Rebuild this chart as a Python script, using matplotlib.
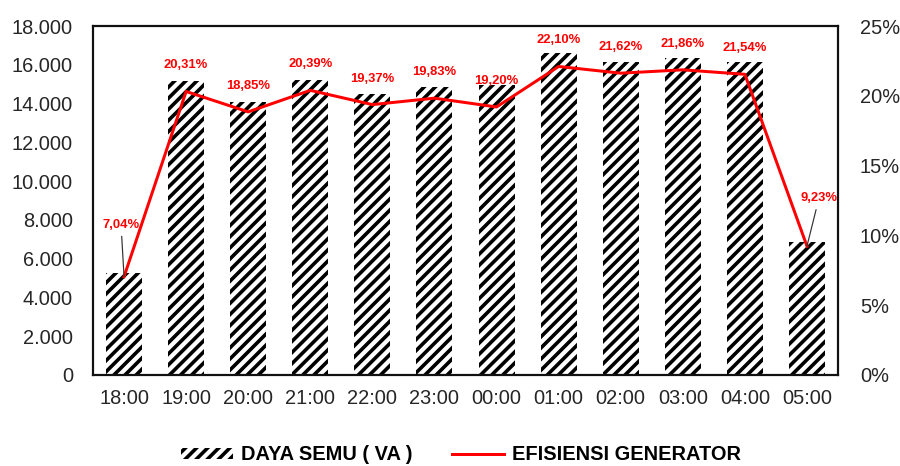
import matplotlib
matplotlib.use("Agg")
import matplotlib.pyplot as plt
from matplotlib.ticker import FuncFormatter
from matplotlib.patches import Patch
from matplotlib.lines import Line2D

hours = ["18:00", "19:00", "20:00", "21:00", "22:00", "23:00", "00:00",
         "01:00", "02:00", "03:00", "04:00", "05:00"]
daya_semu = [5250, 15150, 14080, 15200, 14490, 14870, 14950,
             16600, 16150, 16360, 16150, 6880]
efisiensi = [7.04, 20.31, 18.85, 20.39, 19.37, 19.83, 19.20,
             22.10, 21.62, 21.86, 21.54, 9.23]

DPI = 100


def pt(px):
    return px * 72.0 / DPI


plt.rcParams['font.family'] = ['Liberation Sans', 'DejaVu Sans']
plt.rcParams['hatch.linewidth'] = pt(3.6)
plt.rcParams['hatch.color'] = 'black'

fig = plt.figure(figsize=(900 / DPI, 466 / DPI), dpi=DPI)
ax = fig.add_axes([93 / 900, 1 - 375 / 466, 745 / 900, 349 / 466])
x = list(range(len(hours)))
ax.bar(x, daya_semu, width=0.58, color='white', edgecolor='black',
       linewidth=0, hatch='///')
ax.set_xlim(-0.5, len(hours) - 0.5)
ax.set_ylim(0, 18000)
ax.set_yticks(range(0, 18001, 2000))
ax.yaxis.set_major_formatter(FuncFormatter(lambda v, p: f"{int(v):,}".replace(",", ".")))
ax.set_xticks(x)
ax.set_xticklabels(hours)
ax.tick_params(axis='y', length=0, labelsize=pt(20), colors='#262626', pad=pt(20))
ax.tick_params(axis='x', length=0, labelsize=pt(20), colors='#262626', pad=pt(14))
for s in ax.spines.values():
    s.set_linewidth(pt(2.2))
    s.set_color('#111111')

ax2 = ax.twinx()
ax2.plot(x, [v / 100 for v in efisiensi], color='#ff0000', linewidth=pt(3.0))
ax2.set_ylim(0, 0.25)
ax2.set_yticks([0, 0.05, 0.10, 0.15, 0.20, 0.25])
ax2.yaxis.set_major_formatter(FuncFormatter(lambda v, p: f"{round(v*100)}%"))
ax2.tick_params(axis='y', length=0, labelsize=pt(20), colors='#262626', pad=pt(22))
for s in ax2.spines.values():
    s.set_visible(False)

lblkw = dict(color='#ff0000', fontsize=pt(13), fontweight='bold',
             textcoords='offset pixels', ha='center')
for i, v in enumerate(efisiensi):
    lbl = f"{v:.2f}%".replace(".", ",")
    if i == 0:
        ax2.annotate(lbl, (i, v / 100), xytext=(-3, 46), va='bottom',
                     arrowprops=dict(arrowstyle='-', color='#333333', lw=pt(1.2),
                                     shrinkA=2, shrinkB=0), **lblkw)
    elif i == len(efisiensi) - 1:
        ax2.annotate(lbl, (i, v / 100), xytext=(12, 42), va='bottom',
                     arrowprops=dict(arrowstyle='-', color='#333333', lw=pt(1.2),
                                     shrinkA=2, shrinkB=0), **lblkw)
    else:
        ax2.annotate(lbl, (i, v / 100), xytext=(0, 20), va='bottom', **lblkw)

handles = [Patch(facecolor='white', edgecolor='black', linewidth=0, hatch='///'),
           Line2D([0], [0], color='#ff0000', linewidth=pt(3.0))]
fig.legend(handles, ["DAYA SEMU ( VA )", "EFISIENSI GENERATOR"],
           loc='center', bbox_to_anchor=(461 / 900, 1 - 455 / 466), ncol=2,
           frameon=False, prop={'weight': 'bold', 'size': pt(20)},
           columnspacing=2.0, handlelength=2.6, handletextpad=0.4,
           handleheight=0.45, borderpad=0)

fig.savefig("out.png", dpi=DPI)
